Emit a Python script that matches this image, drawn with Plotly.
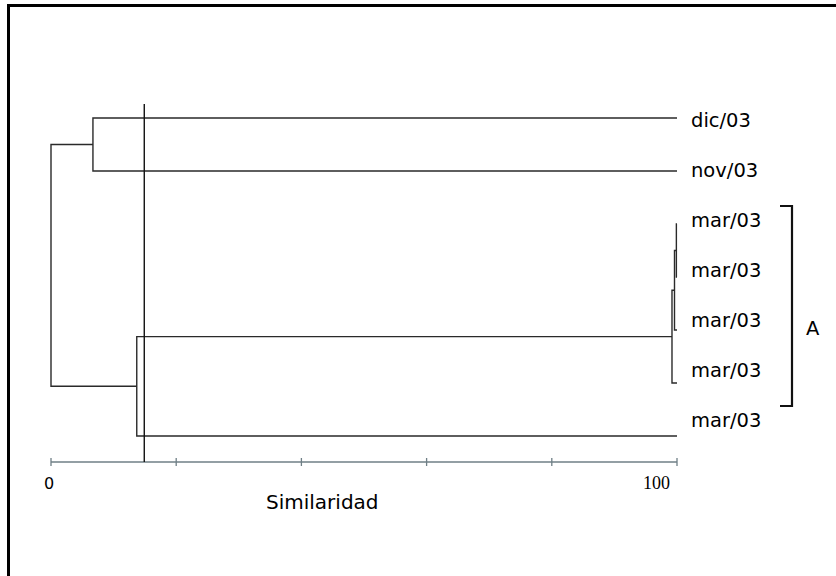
import plotly.graph_objects as go

# ---------------- data ----------------
leaf_labels = ["dic/03", "nov/03", "mar/03", "mar/03", "mar/03", "mar/03", "mar/03"]
# merges: (node_a, node_b, similarity); new nodes numbered from len(leaf_labels)
merge_a = [2, 7, 8, 9, 0, 10]
merge_b = [3, 4, 5, 6, 1, 11]
merge_sim = [99.9, 99.6, 99.2, 13.7, 6.7, 0.0]
leaf_sim = 100.0
cut_value = 14.9
axis_ticks = [0, 20, 40, 60, 80, 100]
axis_tick_labels = ["0", "100"]
axis_title = "Similaridad"
group_label = "A"

# ---------------- geometry / style ----------------
W, H = 836, 576
X0_PX, X100_PX = 51, 677
PX_PER_UNIT = (X100_PX - X0_PX) / 100.0
LEAF0_PX, LEAF_STEP_PX = 118, 53
LINE_COLOR = "#2a2a2a"
FONT = "DejaVu Sans"
TEXT_COLOR = "#000000"

xr = [-X0_PX / PX_PER_UNIT, (W - X0_PX) / PX_PER_UNIT]
yr = [(H - LEAF0_PX) / LEAF_STEP_PX, -LEAF0_PX / LEAF_STEP_PX]


def py(px):
    return (px - LEAF0_PX) / LEAF_STEP_PX


def pxx(px):
    return (px - X0_PX) / PX_PER_UNIT


# build dendrogram segments
pos = {i: (leaf_sim, float(i)) for i in range(len(leaf_labels))}
xs, ys = [], []
nid = len(leaf_labels)
for a, b, s in zip(merge_a, merge_b, merge_sim):
    xa, ya = pos[a]
    xb, yb = pos[b]
    xs += [xa, s, s, xb, None]
    ys += [ya, ya, yb, yb, None]
    pos[nid] = (s, (ya + yb) / 2)
    nid += 1

fig = go.Figure()
fig.add_trace(go.Scatter(x=xs, y=ys, mode="lines",
                         line=dict(color=LINE_COLOR, width=1.4),
                         hoverinfo="skip", showlegend=False))

# similarity scale axis
axis_y = py(462)
tick_h = 4 / LEAF_STEP_PX
ax_x = [axis_ticks[0], axis_ticks[-1], None]
ax_y = [axis_y, axis_y, None]
for t in axis_ticks:
    ax_x += [t, t, None]
    ax_y += [axis_y - tick_h, axis_y + tick_h, None]
fig.add_trace(go.Scatter(x=ax_x, y=ax_y, mode="lines",
                         line=dict(color="#6f7f86", width=1.3),
                         hoverinfo="skip", showlegend=False))

# cut line
fig.add_trace(go.Scatter(x=[cut_value, cut_value], y=[py(104), axis_y], mode="lines",
                         line=dict(color="#111111", width=1.4),
                         hoverinfo="skip", showlegend=False))

# bracket
b_top = py(206)
b_bot = py(406)
bx = pxx(792)
bx0 = pxx(780)
fig.add_trace(go.Scatter(x=[bx0, bx, bx, bx0], y=[b_top, b_top, b_bot, b_bot], mode="lines",
                         line=dict(color="#111111", width=2.2),
                         hoverinfo="skip", showlegend=False))

annotations = []
# leaf labels
for i, lab in enumerate(leaf_labels):
    annotations.append(dict(x=pxx(689), y=py(120 + 50 * i), text=lab, showarrow=False,
                            xanchor="left", yanchor="middle",
                            font=dict(family=FONT, size=19.5, color=TEXT_COLOR)))
annotations.append(dict(x=pxx(813), y=py(328), text=group_label, showarrow=False,
                        xanchor="center", yanchor="middle",
                        font=dict(family=FONT, size=19.5, color=TEXT_COLOR)))
annotations.append(dict(x=pxx(49), y=py(483), text=axis_tick_labels[0], showarrow=False,
                        xanchor="center", yanchor="middle",
                        font=dict(family=FONT, size=16, color=TEXT_COLOR)))
annotations.append(dict(x=pxx(656), y=py(483), text=axis_tick_labels[1], showarrow=False,
                        xanchor="center", yanchor="middle",
                        font=dict(family="Liberation Serif", size=18, color=TEXT_COLOR)))
annotations.append(dict(x=pxx(322), y=py(502), text=axis_title, showarrow=False,
                        xanchor="center", yanchor="middle",
                        font=dict(family=FONT, size=20, color=TEXT_COLOR)))

fig.update_layout(
    width=W, height=H,
    margin=dict(l=0, r=0, t=0, b=0),
    paper_bgcolor="white", plot_bgcolor="white",
    xaxis=dict(range=xr, visible=False, fixedrange=True),
    yaxis=dict(range=yr, visible=False, fixedrange=True),
    annotations=annotations,
    shapes=[
        dict(type="line", xref="paper", yref="paper", x0=7 / W, x1=1, y0=1 - 5.5 / H, y1=1 - 5.5 / H,
             line=dict(color="black", width=3)),
        dict(type="line", xref="paper", yref="paper", x0=8.5 / W, x1=8.5 / W, y0=0, y1=1 - 4 / H,
             line=dict(color="black", width=3)),
    ],
)

fig.write_html("out.html", config={"displayModeBar": False},
               post_script="document.body.style.margin='0px';document.body.style.overflow='hidden';")
